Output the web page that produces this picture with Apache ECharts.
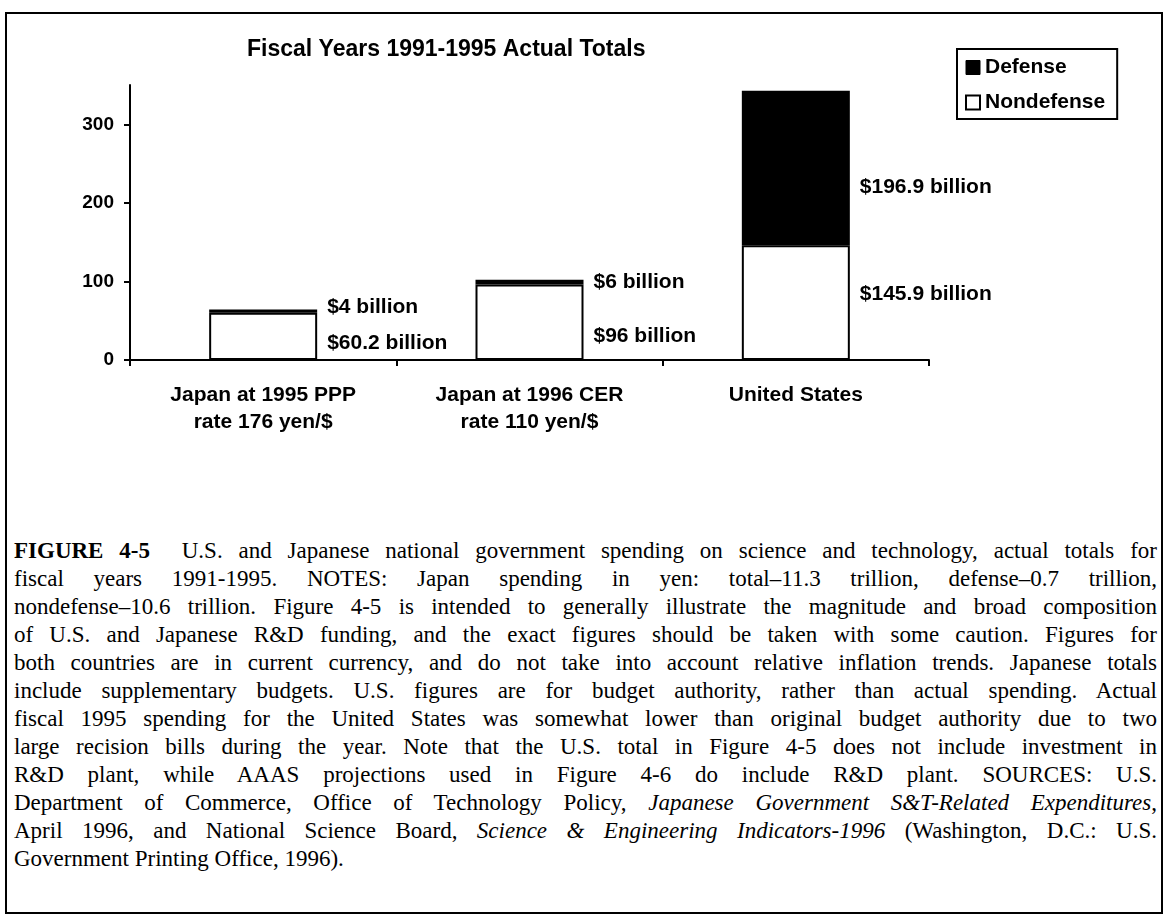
<!DOCTYPE html>
<html>
<head>
    <meta charset="UTF-8">
    <title>Fiscal Years 1991-1995 Actual Totals</title>
    <script src="https://cdn.jsdelivr.net/npm/echarts@6/dist/echarts.min.js"></script>
    <style>
        *{margin:0;padding:0}
        html,body{width:1166px;height:916px;background:#fff;overflow:hidden}
        #frame{
            position:absolute;left:5px;top:12px;width:1158px;height:902px;
            border:2px solid #000;box-sizing:border-box;
        }
        #main{position:absolute;left:0;top:0;width:1166px;height:480px}
        #caption{
            position:absolute;left:14px;top:537px;width:1143px;
            font-family:"Liberation Serif","Times New Roman",serif;
            font-size:23px;line-height:28px;color:#000;
        }
        #caption div{text-align:justify;text-align-last:justify;white-space:nowrap}
        #caption div.last{text-align:left;text-align-last:left}
    </style>
</head>
<body>
<div id="frame"></div>
<div id="main"></div>
<div id="caption">
    <div><b>FIGURE 4-5</b>&nbsp; U.S. and Japanese national government spending on science and technology, actual totals for</div>
    <div>fiscal years 1991-1995. NOTES: Japan spending in yen: total–11.3 trillion, defense–0.7 trillion,</div>
    <div>nondefense–10.6 trillion. Figure 4-5 is intended to generally illustrate the magnitude and broad composition</div>
    <div>of U.S. and Japanese R&amp;D funding, and the exact figures should be taken with some caution. Figures for</div>
    <div>both countries are in current currency, and do not take into account relative inflation trends. Japanese totals</div>
    <div>include supplementary budgets. U.S. figures are for budget authority, rather than actual spending. Actual</div>
    <div>fiscal 1995 spending for the United States was somewhat lower than original budget authority due to two</div>
    <div>large recision bills during the year. Note that the U.S. total in Figure 4-5 does not include investment in</div>
    <div>R&amp;D plant, while AAAS projections used in Figure 4-6 do include R&amp;D plant. SOURCES: U.S.</div>
    <div>Department of Commerce, Office of Technology Policy, <i>Japanese Government S&amp;T-Related Expenditures</i>,</div>
    <div>April 1996, and National Science Board, <i>Science &amp; Engineering Indicators-1996</i> (Washington, D.C.: U.S.</div>
    <div class="last">Government Printing Office, 1996).</div>
</div>
<script type="text/javascript">
    // 数据 (billions of dollars)
    var categories = ['Japan at 1995 PPP\nrate 176 yen/$', 'Japan at 1996 CER\nrate 110 yen/$', 'United States'];
    var nondefense = [60.2, 96, 145.9];
    var defense = [4, 6, 196.9];
    var yTicks = [0, 100, 200, 300];

    var font = '"Liberation Sans", Arial, sans-serif';
    // label nudges so they sit where the original puts them
    var nondefOffsets = [[0, 7], [0, 14], [0, -8]];
    var defOffsets = [[0, -4], [0, 0], [0, 19]];

    function withLabels(values, offsets) {
        return values.map(function (v, i) {
            return {value: v, label: {offset: offsets[i]}};
        });
    }

    var labelStyle = {
        show: true,
        position: 'right',
        distance: 10,
        fontFamily: font,
        fontWeight: 'bold',
        fontSize: 21,
        color: '#000',
        formatter: function (p) { return '$' + p.value + ' billion'; }
    };

    var myChart = echarts.init(document.getElementById('main'));

    var option = {
        animation: false,
        title: {
            text: 'Fiscal Years 1991-1995 Actual Totals',
            left: 242,
            top: 33,
            textStyle: {fontFamily: font, fontWeight: 'bold', fontSize: 23, color: '#000'}
        },
        legend: {
            orient: 'vertical',
            left: 957,
            top: 49,
            padding: [8, 12, 6, 8],
            borderColor: '#000',
            borderWidth: 2,
            itemWidth: 14,
            itemHeight: 14,
            itemGap: 14,
            itemTextGap: 4,
            textStyle: {fontFamily: font, fontWeight: 'bold', fontSize: 21, color: '#000'},
            data: [
                {name: 'Defense', icon: 'rect', itemStyle: {color: '#000', borderColor: '#000', borderWidth: 1}},
                {name: 'Nondefense', icon: 'rect', itemStyle: {color: '#fff', borderColor: '#000', borderWidth: 2}}
            ]
        },
        grid: {left: 130, top: 85, width: 799, height: 275, containLabel: false},
        xAxis: {
            type: 'category',
            data: categories,
            axisLine: {lineStyle: {color: '#000', width: 2}},
            axisTick: {show: true, length: 6, lineStyle: {color: '#000', width: 2}},
            axisLabel: {
                fontFamily: font, fontWeight: 'bold', fontSize: 21,
                lineHeight: 27, margin: 22, color: '#000'
            }
        },
        yAxis: {
            type: 'value',
            min: 0,
            max: 350,
            interval: 50,
            splitLine: {show: false},
            axisLine: {show: true, lineStyle: {color: '#000', width: 2}},
            axisTick: {show: true, length: 6, customValues: yTicks, lineStyle: {color: '#000', width: 2}},
            axisLabel: {
                customValues: yTicks,
                fontFamily: font, fontWeight: 'bold', fontSize: 19,
                margin: 16, color: '#000'
            }
        },
        series: [
            {
                name: 'Nondefense',
                type: 'bar',
                stack: 'total',
                barWidth: 108,
                itemStyle: {color: '#fff', borderColor: '#000', borderWidth: 2},
                label: labelStyle,
                data: withLabels(nondefense, nondefOffsets)
            },
            {
                name: 'Defense',
                type: 'bar',
                stack: 'total',
                barWidth: 108,
                itemStyle: {color: '#000', borderColor: '#000', borderWidth: 2},
                label: labelStyle,
                data: withLabels(defense, defOffsets)
            }
        ]
    };

    myChart.setOption(option);
</script>
</body>
</html>
